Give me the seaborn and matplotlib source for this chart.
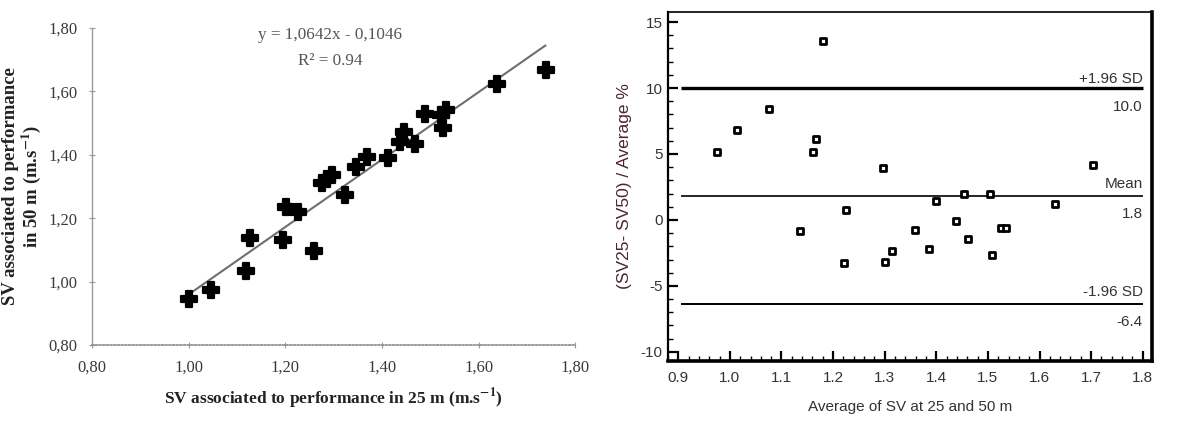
import numpy as np
import pandas as pd
import matplotlib
matplotlib.use("Agg")
import matplotlib.pyplot as plt
import seaborn as sns
from matplotlib.ticker import FuncFormatter, MultipleLocator

# ---------------- data: left panel (regression) ----------------
sv25 = [1.000, 1.046, 1.118, 1.127, 1.195, 1.201, 1.227, 1.260, 1.275, 1.286,
        1.296, 1.323, 1.347, 1.368, 1.413, 1.437, 1.446, 1.468, 1.489, 1.521,
        1.527, 1.533, 1.637, 1.738]
sv50 = [0.945, 0.973, 1.032, 1.137, 1.131, 1.236, 1.221, 1.097, 1.312, 1.323,
        1.336, 1.272, 1.362, 1.394, 1.391, 1.441, 1.473, 1.433, 1.530, 1.527,
        1.485, 1.540, 1.622, 1.667]
fit_slope = 1.0642
fit_intercept = -0.1046
fit_r2 = 0.94
left_ticks = [0.80, 1.00, 1.20, 1.40, 1.60, 1.80]

# ---------------- data: right panel (Bland-Altman) ----------------
ba_avg = [0.975, 1.013, 1.076, 1.135, 1.161, 1.166, 1.181, 1.221, 1.225, 1.296,
          1.301, 1.315, 1.358, 1.385, 1.400, 1.439, 1.454, 1.461, 1.504, 1.508,
          1.525, 1.535, 1.630, 1.704]
ba_diff = [5.13, 6.83, 8.40, -0.86, 5.13, 6.12, 13.53, -3.27, 0.74, 3.93,
           -3.15, -2.36, -0.76, -2.23, 1.42, -0.05, 1.98, -1.45, 1.98, -2.69,
           -0.63, -0.63, 1.19, 4.16]
loa_upper = 10.0
bias = 1.8
loa_lower = -6.4
right_xticks = [0.9, 1.0, 1.1, 1.2, 1.3, 1.4, 1.5, 1.6, 1.7, 1.8]
right_yticks = [-10, -5, 0, 5, 10, 15]

sns.set_theme(style="white")
plt.rcParams["font.family"] = ["Liberation Serif", "DejaVu Serif"]
plt.rcParams["mathtext.fontset"] = "stix"
plt.rcParams["axes.unicode_minus"] = False

fig = plt.figure(figsize=(11.9, 4.23), dpi=100)
fig.patch.set_facecolor("white")

# ================= LEFT PANEL =================
ax1 = fig.add_axes([0.0773, 0.1844, 0.4063, 0.7494])
df_left = pd.DataFrame({"sv25": sv25, "sv50": sv50})
xfit = np.array([min(sv25), max(sv25)])
df_fit = pd.DataFrame({"x": xfit, "y": fit_slope * xfit + fit_intercept})

sns.lineplot(data=df_fit, x="x", y="y", ax=ax1, color="#6e6e6e", linewidth=1.5, zorder=2)
sns.scatterplot(data=df_left, x="sv25", y="sv50", ax=ax1, marker="P", s=140,
                color="black", edgecolor="black", linewidth=1.6, zorder=3)

ax1.set_xlim(0.80, 1.80)
ax1.set_ylim(0.80, 1.80)
ax1.set_xticks(left_ticks)
ax1.set_yticks(left_ticks)
comma_fmt = FuncFormatter(lambda v, p: f"{v:.2f}".replace(".", ","))
ax1.xaxis.set_major_formatter(comma_fmt)
ax1.yaxis.set_major_formatter(comma_fmt)

for s in ["top", "right"]:
    ax1.spines[s].set_visible(False)
ax1.spines["left"].set_color("#9a9a9a")
ax1.spines["left"].set_linewidth(1.0)
ax1.spines["bottom"].set_color("#8a8a8a")
ax1.spines["bottom"].set_linewidth(1.2)
ax1.spines["bottom"].set_linestyle((0, (1, 1.2)))

ax1.tick_params(axis="y", direction="inout", length=5, width=0.8, color="#9a9a9a",
                labelsize=12, labelcolor="#3a3a3a", pad=8, left=True)
ax1.tick_params(axis="x", direction="inout", length=5, width=0.8, color="#9a9a9a",
                labelsize=12, labelcolor="#3a3a3a", pad=8, bottom=True)

ax1.set_xlabel("SV associated to performance in 25 m (m.s$^{\\mathbf{-1}}$)",
               fontsize=12.5, fontweight="bold", color="#222222", labelpad=8)
ax1.set_ylabel("SV associated to performance\nin 50 m (m.s$^{\\mathbf{-1}}$)",
               fontsize=13.5, fontweight="bold", color="#222222", labelpad=4,
               linespacing=1.0)

ax1.text(1.292, 1.778, f"y = {fit_slope:.4f}x - {abs(fit_intercept):.4f}".replace(".", ","),
         ha="center", va="center", fontsize=12.3, color="#555555")
ax1.text(1.292, 1.697, f"R² = {fit_r2:.2f}", ha="center", va="center",
         fontsize=12.3, color="#555555")

# ================= RIGHT PANEL =================
sans = ["Liberation Sans", "DejaVu Sans"]
ax2 = fig.add_axes([0.5613, 0.1466, 0.4068, 0.825])
df_right = pd.DataFrame({"avg": ba_avg, "diff": ba_diff})

line_x0, line_x1 = 0.905, 1.80
ax2.hlines(loa_upper, line_x0, line_x1, color="black", linewidth=2.4, zorder=2)
ax2.hlines(bias, line_x0, line_x1, color="black", linewidth=1.2, zorder=2)
ax2.hlines(loa_lower, line_x0, line_x1, color="black", linewidth=1.4, zorder=2)

sns.scatterplot(data=df_right, x="avg", y="diff", ax=ax2, marker="s", s=20,
                facecolor="white", edgecolor="black", linewidth=2.0, zorder=3)

ax2.set_xlim(0.880, 1.818)
ax2.set_ylim(-10.69, 15.76)
ax2.set_xticks(right_xticks)
ax2.set_yticks(right_yticks)
ax2.xaxis.set_major_formatter(FuncFormatter(lambda v, p: f"{v:.1f}"))
ax2.xaxis.set_minor_locator(MultipleLocator(0.02))
ax2.yaxis.set_minor_locator(MultipleLocator(1))

for s, lw in [("left", 1.6), ("top", 1.2), ("right", 2.6), ("bottom", 2.6)]:
    ax2.spines[s].set_visible(True)
    ax2.spines[s].set_color("black")
    ax2.spines[s].set_linewidth(lw)

ax2.tick_params(axis="both", which="major", direction="in", length=7, width=1.6,
                color="black", labelsize=11, labelcolor="#333333")
ax2.tick_params(axis="both", which="minor", direction="in", length=3.5, width=1.0,
                color="black")
ax2.tick_params(axis="y", which="both", left=True, right=False, pad=4)
ax2.tick_params(axis="x", which="both", bottom=True, top=False, pad=7)
for lab in ax2.get_xticklabels() + ax2.get_yticklabels():
    lab.set_family(sans)

ax2.set_xlabel("Average of SV at 25 and 50 m", fontsize=11, family=sans,
               color="#333333", labelpad=11)
ax2.set_ylabel("(SV25- SV50) / Average %", fontsize=12.5, family=sans,
               color="#4d2530", labelpad=6)

lab_kw = dict(ha="right", va="center", fontsize=11, family=sans, color="#333333")
ax2.text(1.80, loa_upper + 0.71, "+1.96 SD", **lab_kw)
ax2.text(1.80, loa_upper - 1.47, f"{loa_upper:.1f}", **lab_kw)
ax2.text(1.80, bias + 0.89, "Mean", **lab_kw)
ax2.text(1.80, bias - 1.34, f"{bias:.1f}", **lab_kw)
ax2.text(1.80, loa_lower + 0.97, "-1.96 SD", **lab_kw)
ax2.text(1.80, loa_lower - 1.37, f"{loa_lower:.1f}", **lab_kw)

fig.savefig("out.png", dpi=100, facecolor="white")
